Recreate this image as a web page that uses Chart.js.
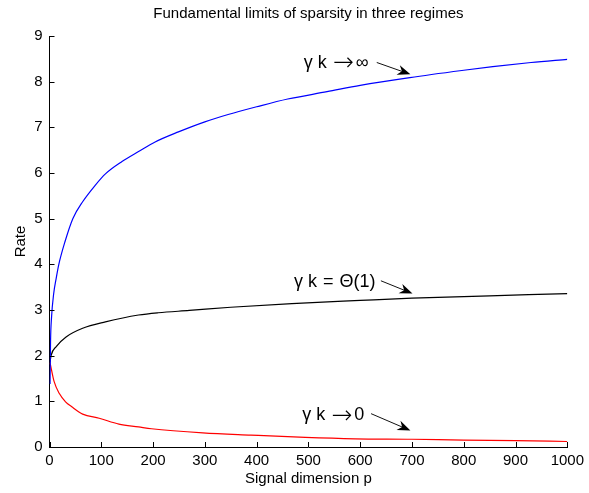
<!DOCTYPE html>
<html lang="en">
<head>
    <meta charset="UTF-8">
    <title>Fundamental limits of sparsity in three regimes</title>
    <script src="https://cdn.jsdelivr.net/npm/chart.js"></script>
    <style>
        html, body { margin: 0; padding: 0; background: #fff; }
        #wrap { width: 589px; height: 493px; }
    </style>
</head>
<body>
    <div id="wrap"><canvas id="rateChart"></canvas></div>

    <script>
        // values
        const pInf = [1, 2, 4, 8, 13, 18, 30, 45, 64, 89, 108, 140, 172, 204, 249, 300, 345, 400, 460, 536, 600, 696, 800, 856, 930, 1000];
        const rateInf = [1.38, 2.3, 2.85, 3.35, 3.7, 4.0, 4.5, 5.0, 5.37, 5.74, 5.98, 6.25, 6.47, 6.68, 6.9, 7.12, 7.28, 7.45, 7.62, 7.78, 7.92, 8.09, 8.25, 8.33, 8.42, 8.49];

        const pTheta = [1, 3, 13, 32, 64, 108, 172, 210, 270, 350, 468, 600, 700, 850, 1000];
        const rateTheta = [1.85, 2.0, 2.2, 2.41, 2.6, 2.74, 2.89, 2.94, 2.99, 3.06, 3.14, 3.21, 3.26, 3.31, 3.36];

        const pZero = [1, 9, 19, 31, 43, 64, 96, 134, 172, 197, 296, 389, 494, 590, 700, 800, 900, 1000];
        const rateZero = [1.85, 1.43, 1.17, 0.99, 0.88, 0.72, 0.63, 0.5, 0.44, 0.4, 0.31, 0.26, 0.21, 0.18, 0.17, 0.15, 0.14, 0.12];

        const xTicks = [0, 100, 200, 300, 400, 500, 600, 700, 800, 900, 1000];
        const yTicks = [0, 1, 2, 3, 4, 5, 6, 7, 8, 9];

        const labels = [
            { parts: ['γ', 'k', '→', '∞'], at: [491, 8.41], from: [632, 8.42], to: [697, 8.16] },
            { parts: ['γ', 'k', '=', 'Θ(1)'], at: [472, 3.62], from: [640, 3.64], to: [701, 3.36] },
            { parts: ['γ', 'k', '→', '0'], at: [488, 0.70], from: [621, 0.73], to: [697, 0.36] }
        ];

        const font = '"Liberation Sans", Arial, sans-serif';

        function pts(xs, ys) {
            return xs.map((x, i) => ({ x: x, y: ys[i] }));
        }

        function arrow(ctx, x1, y1, x2, y2) {
            const a = Math.atan2(y2 - y1, x2 - x1);
            const c = Math.cos(a), s = Math.sin(a);
            const len = 13, half = 5, back = 9;
            ctx.beginPath();
            ctx.moveTo(x1, y1);
            ctx.lineTo(x2 - c * back, y2 - s * back);
            ctx.stroke();
            ctx.beginPath();
            ctx.moveTo(x2, y2);
            ctx.lineTo(x2 - c * len + s * half, y2 - s * len - c * half);
            ctx.lineTo(x2 - c * back, y2 - s * back);
            ctx.lineTo(x2 - c * len - s * half, y2 - s * len + c * half);
            ctx.closePath();
            ctx.fill();
        }

        function drawParts(ctx, parts, x, y) {
            parts.forEach((t, i) => {
                if (t === '→') {
                    ctx.font = '200 25px "DejaVu Sans", sans-serif';
                } else {
                    ctx.font = '18px ' + font;
                }
                ctx.fillText(t, x, y + (t === '→' ? 1 : 0));
                x += ctx.measureText(t).width + (t === '→' ? 2 : (i === 0 ? 5 : 6));
            });
        }

        const matlabAxes = {
            id: 'matlabAxes',
            afterDraw(chart) {
                const ctx = chart.ctx;
                const xs = chart.scales.x, ys = chart.scales.y;
                const area = chart.chartArea;
                ctx.save();
                ctx.strokeStyle = '#000';
                ctx.fillStyle = '#000';
                ctx.lineWidth = 1;
                // inward ticks
                ctx.beginPath();
                xTicks.forEach(v => {
                    const px = Math.round(xs.getPixelForValue(v)) + 0.5;
                    ctx.moveTo(px, area.bottom);
                    ctx.lineTo(px, area.bottom - 5);
                });
                yTicks.forEach(v => {
                    const py = Math.round(ys.getPixelForValue(v)) + 0.5;
                    ctx.moveTo(area.left, py);
                    ctx.lineTo(area.left + 5, py);
                });
                ctx.stroke();

                // title and axis titles
                ctx.textAlign = 'center';
                ctx.textBaseline = 'middle';
                ctx.font = '15px ' + font;
                ctx.fillText('Fundamental limits of sparsity in three regimes', (area.left + area.right) / 2, 14);
                ctx.fillText('Signal dimension p', (area.left + area.right) / 2, 479);
                ctx.save();
                ctx.translate(21, (area.top + area.bottom) / 2);
                ctx.rotate(-Math.PI / 2);
                ctx.fillText('Rate', 0, 0);
                ctx.restore();

                // annotations with arrows
                ctx.textAlign = 'left';
                ctx.strokeStyle = '#111';
                labels.forEach(l => {
                    drawParts(ctx, l.parts, xs.getPixelForValue(l.at[0]), ys.getPixelForValue(l.at[1]));
                    arrow(ctx,
                        xs.getPixelForValue(l.from[0]), ys.getPixelForValue(l.from[1]),
                        xs.getPixelForValue(l.to[0]), ys.getPixelForValue(l.to[1]));
                });
                ctx.restore();
            }
        };

        const series = (data, color) => ({
            data: data,
            borderColor: color,
            borderWidth: 1.2,
            pointRadius: 0,
            fill: false,
            cubicInterpolationMode: 'monotone'
        });

        new Chart(document.getElementById('rateChart'), {
            type: 'line',
            data: {
                datasets: [
                    series(pts(pInf, rateInf), '#0000ff'),
                    series(pts(pTheta, rateTheta), '#000000'),
                    series(pts(pZero, rateZero), '#ff0000')
                ]
            },
            options: {
                responsive: true,
                maintainAspectRatio: false,
                animation: false,
                layout: { padding: { top: 36, right: 17.5, left: 0, bottom: 0 } },
                plugins: {
                    legend: { display: false },
                    tooltip: { enabled: false }
                },
                scales: {
                    x: {
                        type: 'linear',
                        min: 0, max: 1000,
                        afterFit: s => { s.height = 46; },
                        afterBuildTicks: s => { s.ticks = xTicks.map(v => ({ value: v })); },
                        grid: { display: false, drawTicks: false },
                        border: { display: true, color: '#000', width: 1 },
                        ticks: {
                            color: '#000', padding: 5, maxRotation: 0,
                            font: { family: font, size: 15 },
                            callback: v => String(v)
                        }
                    },
                    y: {
                        type: 'linear',
                        min: 0, max: 9,
                        afterFit: s => { s.width = 49.5; },
                        afterBuildTicks: s => { s.ticks = yTicks.map(v => ({ value: v })); },
                        grid: { display: false, drawTicks: false },
                        border: { display: true, color: '#000', width: 1 },
                        ticks: { color: '#000', padding: 7, font: { family: font, size: 15 } }
                    }
                }
            },
            plugins: [matlabAxes]
        });
    </script>
</body>
</html>
